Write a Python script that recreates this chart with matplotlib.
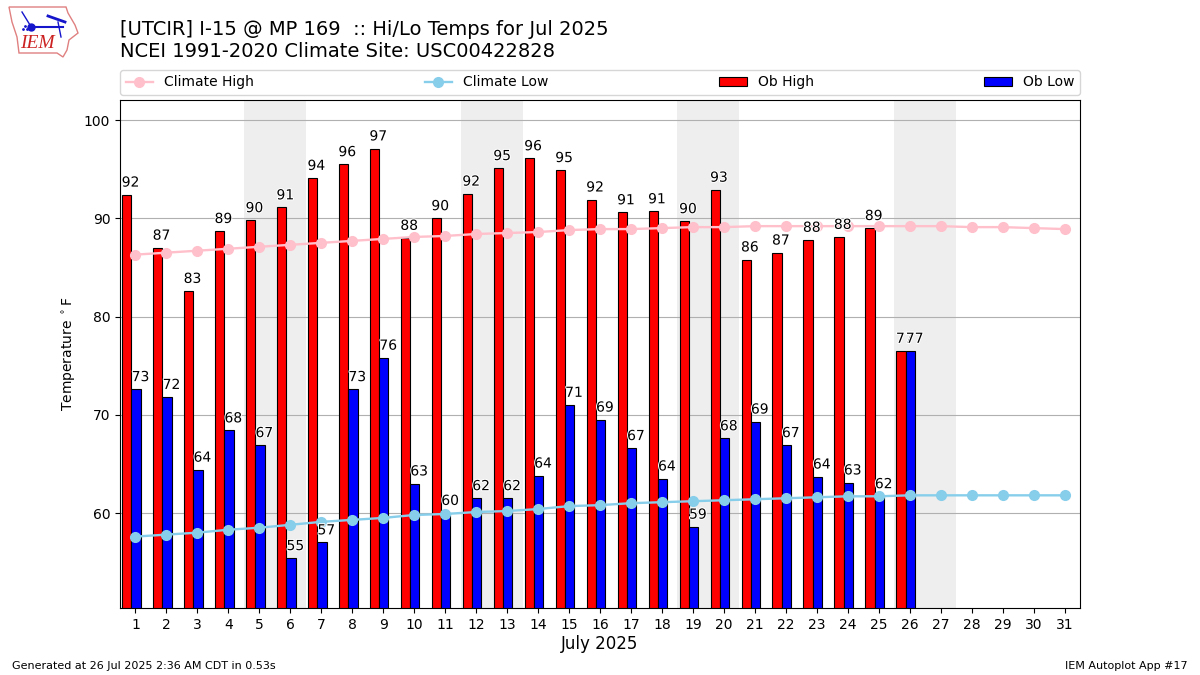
import matplotlib
matplotlib.use("Agg")
import matplotlib.pyplot as plt
import matplotlib.patheffects as pe
from matplotlib.patches import Polygon
import numpy as np

days = list(range(1, 32))
ob_days = list(range(1, 27))
ob_high = [92.4, 87.0, 82.6, 88.7, 89.8, 91.1, 94.1, 95.5, 97.1, 88.0, 90.0, 92.5, 95.1,
           96.1, 94.9, 91.9, 90.6, 90.7, 89.7, 92.9, 85.8, 86.5, 87.8, 88.1, 89.0, 76.5]
ob_low = [72.6, 71.8, 64.4, 68.4, 66.9, 55.4, 57.0, 72.6, 75.8, 63.0, 60.0, 61.5, 61.5,
          63.8, 71.0, 69.5, 66.6, 63.5, 58.6, 67.6, 69.3, 66.9, 63.7, 63.1, 61.7, 76.5]
high_labels = [92, 87, 83, 89, 90, 91, 94, 96, 97, 88, 90, 92, 95, 96, 95, 92, 91, 91, 90,
               93, 86, 87, 88, 88, 89, 77]
low_labels = [73, 72, 64, 68, 67, 55, 57, 73, 76, 63, 60, 62, 62, 64, 71, 69, 67, 64, 59,
              68, 69, 67, 64, 63, 62, 77]
climate_high = [86.3, 86.5, 86.7, 86.9, 87.1, 87.3, 87.5, 87.7, 87.9, 88.1, 88.2, 88.4,
                88.5, 88.6, 88.8, 88.9, 88.9, 89.0, 89.1, 89.1, 89.2, 89.2, 89.2, 89.2,
                89.2, 89.2, 89.2, 89.1, 89.1, 89.0, 88.9]
climate_low = [57.6, 57.8, 58.0, 58.3, 58.5, 58.8, 59.1, 59.3, 59.5, 59.8, 59.9, 60.1,
               60.2, 60.4, 60.7, 60.8, 61.0, 61.1, 61.2, 61.3, 61.4, 61.5, 61.6, 61.7,
               61.7, 61.8, 61.8, 61.8, 61.8, 61.8, 61.8]
weekend_starts = [5, 12, 19, 26]

fig = plt.figure(figsize=(12, 6.75), dpi=100)
ax = fig.add_axes([0.1, 1 - 608 / 675, 0.8, 508 / 675])

for d in weekend_starts:
    ax.axvspan(d - 0.5, d + 1.5, color="#eeeeee", lw=0, zorder=0)
ax.grid(axis="y", color="#b0b0b0", lw=0.8, zorder=1)
ax.set_axisbelow(True)

x = np.array(ob_days)
ax.bar(x - 0.28, ob_high, width=0.3, color="red", edgecolor="black", lw=0.8, zorder=2, label="Ob High")
ax.bar(x + 0.02, ob_low, width=0.3, color="blue", edgecolor="black", lw=0.8, zorder=2, label="Ob Low")
ax.plot(days, climate_high, "-o", color="pink", lw=1.7, ms=7, zorder=3, label="Climate High")
ax.plot(days, climate_low, "-o", color="skyblue", lw=1.7, ms=7, zorder=3, label="Climate Low")

halo = [pe.withStroke(linewidth=1.5, foreground="white")]
for xi, v, lab in zip(x, ob_high, high_labels):
    ax.text(xi - 0.16, v + 0.52, str(lab), ha="center", va="bottom", fontsize=10, zorder=4, path_effects=halo)
for xi, v, lab in zip(x, ob_low, low_labels):
    ax.text(xi + 0.16, v + 0.52, str(lab), ha="center", va="bottom", fontsize=10, zorder=4, path_effects=halo)

ax.set_xlim(0.5, 31.5)
ax.set_ylim(50.33, 102.04)
ax.set_xticks(days)
ax.set_yticks([60, 70, 80, 90, 100])
ax.tick_params(labelsize=10)
ax.set_xlabel("July 2025", fontsize=12, labelpad=2.5)
ax.set_ylabel(r"Temperature $^\circ$F", fontsize=10)

handles, labels = ax.get_legend_handles_labels()
order = [labels.index(n) for n in ["Climate High", "Climate Low", "Ob High", "Ob Low"]]
ax.legend([handles[i] for i in order], [labels[i] for i in order], ncol=4, mode="expand",
          loc="lower left", bbox_to_anchor=(0, 1.01, 1, 0.05), borderaxespad=0, fontsize=10)

fig.text(120 / 1200, 1 - 61 / 675, "[UTCIR] I-15 @ MP 169  :: Hi/Lo Temps for Jul 2025\n"
         "NCEI 1991-2020 Climate Site: USC00422828", fontsize=14, ha="left", va="bottom",
         linespacing=1.2)
fig.text(12 / 1200, 1 - 666 / 675, "Generated at 26 Jul 2025 2:36 AM CDT in 0.53s", fontsize=8, va="center")
fig.text(1188 / 1200, 1 - 666 / 675, "IEM Autoplot App #17", fontsize=8, va="center", ha="right")

# logo, in figure pixels
lg = fig.add_axes([0, 1 - 60 / 675, 90 / 1200, 60 / 675])
lg.set_xlim(0, 90)
lg.set_ylim(60, 0)
lg.axis("off")
lg.add_patch(Polygon([(9, 7), (66, 7), (68, 13), (75, 25), (78, 33), (69, 40), (67, 50),
                      (63, 57), (57, 53), (19, 53), (17, 37), (12, 22)],
                     closed=True, fill=False, edgecolor="#e08080", lw=1))
lg.plot([31, 63], [27, 27], color="#1515cc", lw=1.5)
lg.plot([31], [27], "o", color="#1515cc", ms=5)
lg.plot([22, 30], [12, 25], color="#1515cc", lw=1)
lg.plot([48, 65], [16, 22], color="#1515cc", lw=2)
lg.plot([58, 61], [22, 37], color="#1515cc", lw=1)
lg.plot([23, 25, 27], [29, 26, 29], ".", color="#1515cc", ms=2)
lg.text(37, 44, "IEM", color="#cc2222", fontsize=14, style="italic", family="Liberation Serif",
        ha="center", va="center")

fig.savefig("out.png", dpi=100)
